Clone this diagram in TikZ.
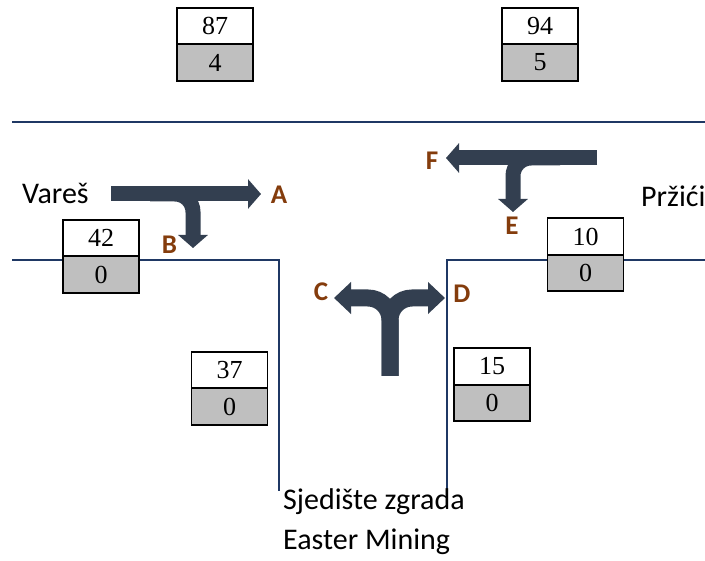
\documentclass[tikz,border=0pt]{standalone}
\usepackage{fontspec}
\setmainfont{Liberation Serif}
\newfontfamily\calibri{Carlito}
\usetikzlibrary{arrows.meta,positioning}
\definecolor{roadblue}{RGB}{31,56,100}
\definecolor{flowcol}{RGB}{51,63,80}
\definecolor{lblcol}{RGB}{132,60,12}
\definecolor{cellgray}{RGB}{191,191,191}

\begin{document}
\begin{tikzpicture}[x=1pt,y=-1pt,
  cell/.style={draw,line width=1.6pt,minimum width=76pt,minimum height=36.5pt,
               inner sep=0pt,outer sep=0pt,font=\fontsize{26}{30}\selectfont},
  lower/.style={cell,fill=cellgray},
  flow/.style={draw=flowcol,line width=15pt,-{Triangle[length=13pt,width=29pt]}},
  split/.style={flow,line width=17pt,rounded corners=22pt,-{Triangle[length=17pt,width=31pt]}},
  lbl/.style={text=lblcol,inner sep=0pt,font=\calibri\bfseries\fontsize{27}{30}\selectfont},
  place/.style={inner sep=0pt,font=\calibri\fontsize{30}{40}\selectfont},
  street/.style={draw=roadblue,line width=1.5pt}]
\fill[white] (0,0) rectangle (705,561);
\useasboundingbox (0,0) rectangle (705,561);
% roads
\draw[street] (12,122) -- (705,122);
\draw[street] (12,260) -- (279,260) -- (279,491);
\draw[street] (705,260) -- (447,260) -- (447,490);
% counters
\node[cell] (n87) at (215,26) {87};
\node[lower,below=0pt of n87] (n4) {4};
\node[cell] (n94) at (540,26) {94};
\node[lower,below=0pt of n94] (n5) {5};
\node[cell] (n42) at (101,238) {42};
\node[lower,below=0pt of n42] (n42b) {0};
\node[cell] (n10) at (585.5,236.5) {10};
\node[lower,below=0pt of n10] (n10b) {0};
\node[cell] (n37) at (229.5,370) {37};
\node[lower,below=0pt of n37] (n37b) {0};
\node[cell] (n15) at (492,366.5) {15};
\node[lower,below=0pt of n15] (n15b) {0};
% turning flows
\draw[flow] (111,194) -- (261,194);
\draw[flow,rounded corners=18pt] (150,194) -| (193,248);
\draw[flow] (597,158) -- (446,158);
\draw[flow,rounded corners=18pt] (560,158) -| (513,212);
\draw[split] (390,376) |- (334,298);
\draw[split] (390,376) |- (445,298);
\node[lbl] (la) at (279,195) {A};
\node[lbl] (lb) at (169.5,244.5) {B};
\node[lbl] (lc) at (321,292) {C};
\node[lbl] (ld) at (462,294) {D};
\node[lbl] (le) at (512,226) {E};
\node[lbl] (lf) at (432,161) {F};
% places
\node[place,anchor=base west] (vares) at (22,204) {Vareš};
\node[place,anchor=base west] (przici) at (641,207) {Pržići};
\node[place,anchor=base west,align=left] (hq) at (283,550) {Sjedište zgrada\\Easter Mining};
\end{tikzpicture}
\end{document}
